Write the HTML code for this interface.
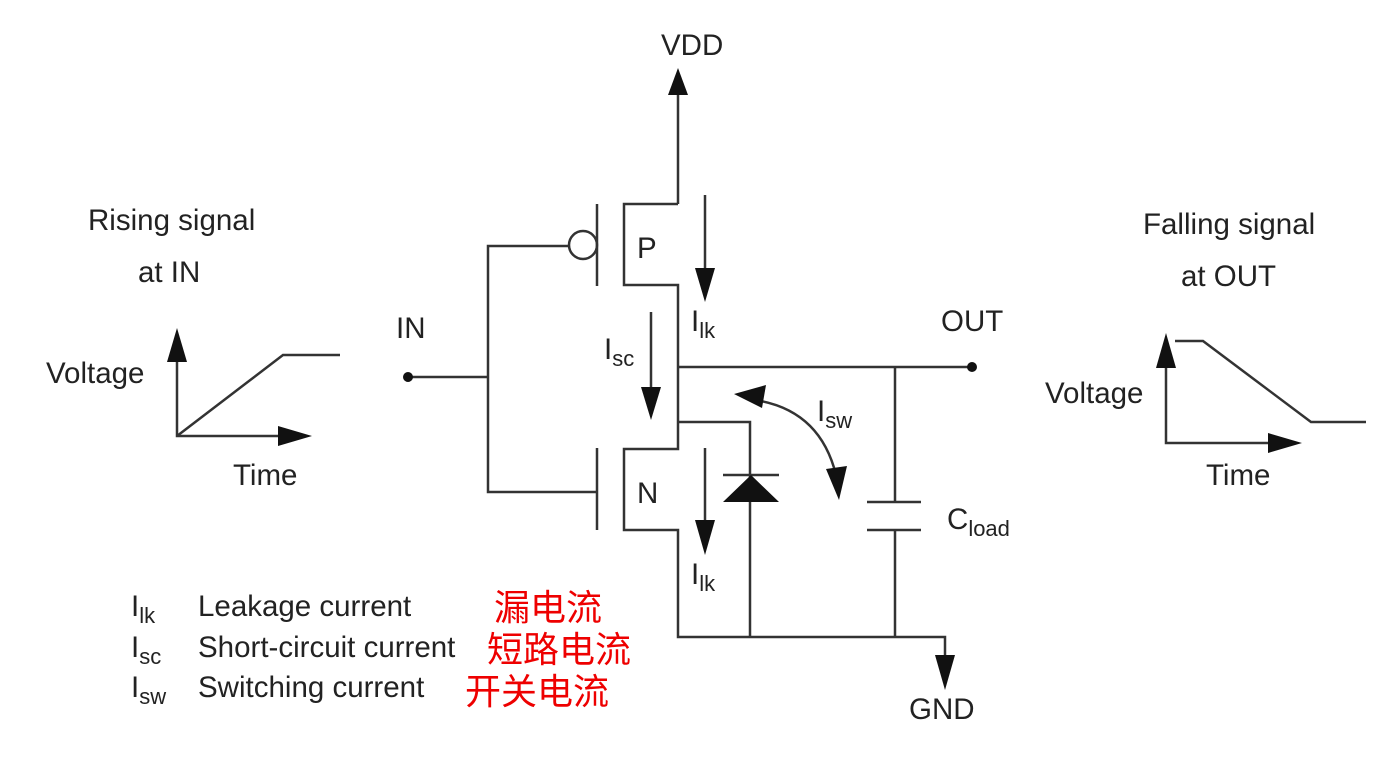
<!DOCTYPE html>
<html><head><meta charset="utf-8"><style>
html,body{margin:0;padding:0;background:#fff;}
svg text{font-family:"Liberation Sans","Noto Sans CJK SC",sans-serif;fill:#222;}
</style></head><body>
<svg width="1398" height="752" viewBox="0 0 1398 752" xmlns="http://www.w3.org/2000/svg">
<g stroke="#333" stroke-width="2.5" fill="none">
<line x1="678" y1="204" x2="678" y2="90"/>
<polyline points="678,204 624,204 624,285 678,285 678,449 624,449 624,530 678,530 678,637 945,637 945,660"/>
<line x1="597" y1="204" x2="597" y2="286"/>
<line x1="597" y1="448" x2="597" y2="530"/>
<circle cx="583" cy="245" r="14"/>
<polyline points="569,246 488,246 488,492 597,492"/>
<line x1="408" y1="377" x2="488" y2="377"/>
<line x1="678" y1="367" x2="972" y2="367"/>
<polyline points="678,422 750,422 750,637"/>
<line x1="723" y1="475" x2="779" y2="475"/>
<line x1="895" y1="367" x2="895" y2="502"/>
<line x1="867" y1="502" x2="921" y2="502"/>
<line x1="867" y1="530" x2="921" y2="530"/>
<line x1="895" y1="530" x2="895" y2="637"/>
<line x1="705" y1="195" x2="705" y2="275"/>
<line x1="705" y1="448" x2="705" y2="525"/>
<line x1="651" y1="312" x2="651" y2="392"/>
<path d="M755 400 Q820 410 836 475"/>
<polyline points="177,355 177,436 285,436"/>
<polyline points="177,436 283,355 340,355"/>
<polyline points="1166,360 1166,443 1275,443"/>
<polyline points="1175,341 1203,341 1311,422 1366,422"/>
</g>
<g fill="#111">
<circle cx="408" cy="377" r="5"/>
<circle cx="972" cy="367" r="5"/>
<polygon points="723,502 779,502 751,475"/>
<polygon points="668,95 688,95 678,68"/>
<polygon points="935,655 955,655 945,690"/>
<polygon points="695,268 715,268 705,302"/>
<polygon points="695,520 715,520 705,555"/>
<polygon points="641,387 661,387 651,420"/>
<polygon points="734,394 766,385 762,408"/>
<polygon points="826,469 847,466 839,500"/>
<polygon points="167,362 187,362 177,328"/>
<polygon points="278,426 278,446 312,436"/>
<polygon points="1156,368 1176,368 1166,333"/>
<polygon points="1268,433 1268,453 1302,443"/>
</g>
<g font-size="29.5">
<text x="661" y="55">VDD</text>
<text x="909" y="719">GND</text>
<text x="396" y="338">IN</text>
<text x="941" y="331">OUT</text>
<text x="637" y="258">P</text>
<text x="637" y="503">N</text>
<text x="691" y="331">I<tspan font-size="22" dy="7">lk</tspan></text>
<text x="691" y="584">I<tspan font-size="22" dy="7">lk</tspan></text>
<text x="604" y="359">I<tspan font-size="22" dy="7">sc</tspan></text>
<text x="817" y="421">I<tspan font-size="22" dy="7">sw</tspan></text>
<text x="947" y="529">C<tspan font-size="22" dy="7">load</tspan></text>
<text x="88" y="230">Rising signal</text>
<text x="138" y="282">at IN</text>
<text x="46" y="383">Voltage</text>
<text x="233" y="485">Time</text>
<text x="1143" y="234">Falling signal</text>
<text x="1181" y="286">at OUT</text>
<text x="1045" y="403">Voltage</text>
<text x="1206" y="485">Time</text>
<text x="131" y="616">I<tspan font-size="22" dy="7">lk</tspan></text>
<text x="131" y="657">I<tspan font-size="22" dy="7">sc</tspan></text>
<text x="131" y="697">I<tspan font-size="22" dy="7">sw</tspan></text>
<text x="198" y="616">Leakage current</text>
<text x="198" y="657">Short-circuit current</text>
<text x="198" y="697">Switching current</text>
</g>
<g font-size="36" style="font-family:'Noto Sans CJK SC',sans-serif">
<text x="494" y="620" style="fill:#e00">漏电流</text>
<text x="487" y="662" style="fill:#e00">短路电流</text>
<text x="465" y="704" style="fill:#e00">开关电流</text>
</g>
</svg>
</body></html>
